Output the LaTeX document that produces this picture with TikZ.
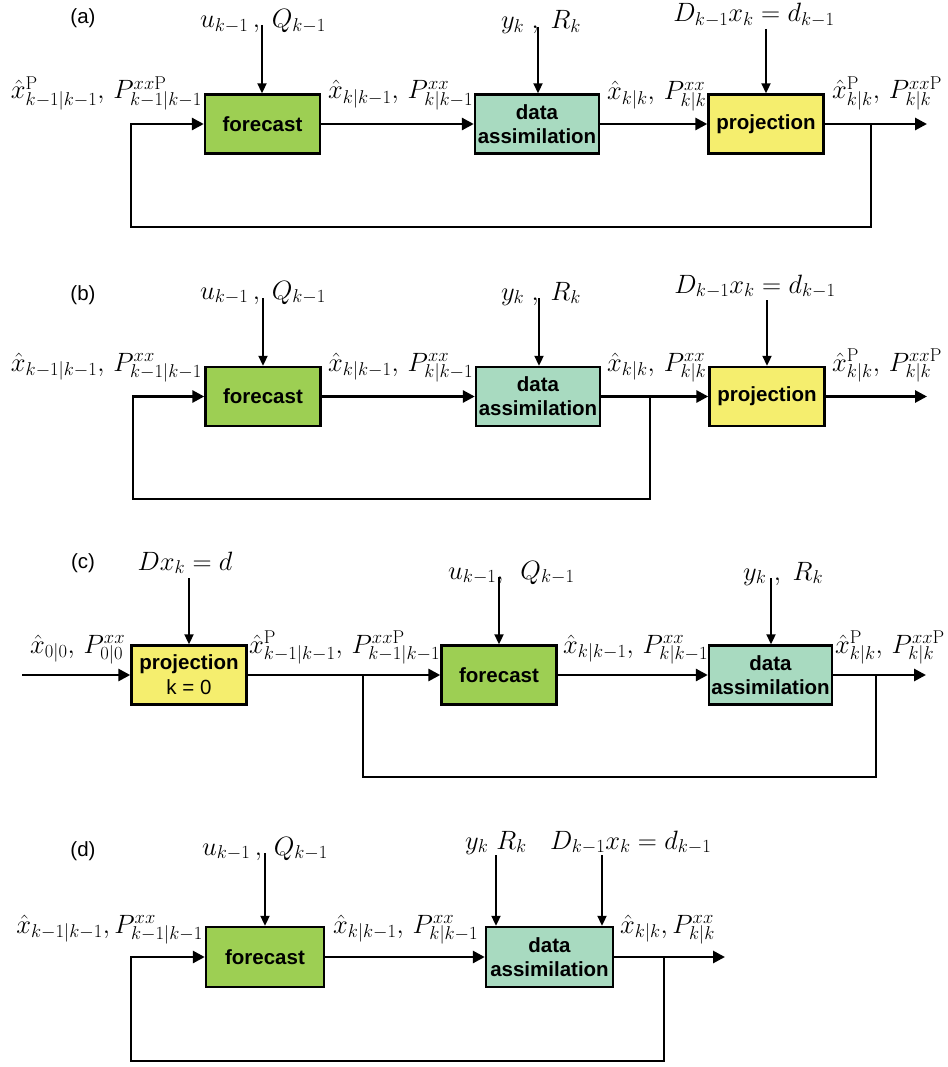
\RequirePackage{fix-cm}
\documentclass[tikz,border=0pt]{standalone}
\usepackage{fontspec}
\setsansfont{Liberation Sans}
\usetikzlibrary{arrows.meta}
\definecolor{fcgreen}{RGB}{157,207,83}
\definecolor{dateal}{RGB}{168,218,192}
\definecolor{pjyellow}{RGB}{245,238,110}
\tikzset{
  blk/.style={draw=black, line width=2.4pt, minimum height=59pt, inner sep=0pt,
    font=\sffamily\bfseries\fontsize{20.5}{24}\selectfont, align=center},
  fcbox/.style={blk, fill=fcgreen, minimum width=115pt},
  dabox/.style={blk, fill=dateal, minimum width=124pt},
  pjbox/.style={blk, fill=pjyellow, minimum width=115pt},
  conn/.style={line width=2.8pt, -{Triangle[length=12pt,width=12pt]}},
  feed/.style={line width=2.8pt},
  inarr/.style={line width=2pt, -{Triangle[length=10pt,width=9pt]}},
  lab/.style={font=\fontsize{26.5}{30}\selectfont, inner sep=0pt},
  ptag/.style={font=\sffamily\fontsize{20.5}{24}\selectfont, inner sep=0pt}
}
\begin{document}
\begin{tikzpicture}[x=1pt,y=-1pt]
\useasboundingbox (0,0) rectangle (947,1067);

% ---------------- (a) ----------------
\node[ptag] (a-tag) at (83,18) {(a)};
\node[fcbox] (a-fc) at (262.5,124) {forecast};
\node[dabox] (a-da) at (537,124) {data\\assimilation};
\node[pjbox] (a-pj) at (766,124) {projection};
\node[lab, anchor=base] (a-uq) at (263,28) {$u_{k-1}\,,\; Q_{k-1}$};
\node[lab, anchor=base] (a-yr) at (541,29) {$y_k\;,\; R_k$};
\node[lab, anchor=base] (a-dc) at (754,22) {$D_{k-1}x_k = d_{k-1}$};
\coordinate (a-u) at (262,25);
\coordinate (a-y) at (538,27);
\coordinate (a-d) at (766,29);
\draw[inarr] (a-u) -- (a-u |- a-fc.north);
\draw[inarr] (a-y) -- (a-y |- a-da.north);
\draw[inarr] (a-d) -- (a-d |- a-pj.north);
\node[lab, anchor=base east] (a-l0) at (202,99) {$\hat{x}^{\mathrm{P}}_{k-1|k-1},\, P^{xx\mathrm{P}}_{k-1|k-1}$};
\node[lab, anchor=base west] (a-l1) at (328,99) {$\hat{x}_{k|k-1},\, P^{xx}_{k|k-1}$};
\node[lab, anchor=base west] (a-l2) at (607,100) {$\hat{x}_{k|k},\, P^{xx}_{k|k}$};
\node[lab, anchor=base west] (a-l3) at (832,99) {$\hat{x}^{\mathrm{P}}_{k|k},\, P^{xx\mathrm{P}}_{k|k}$};
\coordinate (a-out) at (927,124);
\coordinate (a-j) at (871,124);
\coordinate (a-bl) at (131,227);
\draw[conn] (a-fc.east) -- (a-da.west);
\draw[conn] (a-da.east) -- (a-pj.west);
\draw[conn] (a-pj.east) -- (a-out);
\draw[conn] (a-j) |- (a-bl) |- (a-fc.west);

% ---------------- (b) ----------------
\node[ptag] (b-tag) at (83,295) {(b)};
\node[fcbox] (b-fc) at (263,396.5) {forecast};
\node[dabox] (b-da) at (538,396.5) {data\\assimilation};
\node[pjbox] (b-pj) at (767,396.5) {projection};
\node[lab, anchor=base] (b-uq) at (263,299) {$u_{k-1}\,,\; Q_{k-1}$};
\node[lab, anchor=base] (b-yr) at (541,300) {$y_k\;,\; R_k$};
\node[lab, anchor=base] (b-dc) at (755,293) {$D_{k-1}x_k = d_{k-1}$};
\coordinate (b-u) at (263,298);
\coordinate (b-y) at (539,298);
\coordinate (b-d) at (767,300);
\draw[inarr] (b-u) -- (b-u |- b-fc.north);
\draw[inarr] (b-y) -- (b-y |- b-da.north);
\draw[inarr] (b-d) -- (b-d |- b-pj.north);
\node[lab, anchor=base east] (b-l0) at (202,371) {$\hat{x}_{k-1|k-1},\, P^{xx}_{k-1|k-1}$};
\node[lab, anchor=base west] (b-l1) at (328,371) {$\hat{x}_{k|k-1},\, P^{xx}_{k|k-1}$};
\node[lab, anchor=base west] (b-l2) at (607,371) {$\hat{x}_{k|k},\, P^{xx}_{k|k}$};
\node[lab, anchor=base west] (b-l3) at (832,371) {$\hat{x}^{\mathrm{P}}_{k|k},\, P^{xx\mathrm{P}}_{k|k}$};
\coordinate (b-out) at (927,396.5);
\coordinate (b-j) at (650,396.5);
\coordinate (b-bl) at (133,499);
\draw[conn] (b-fc.east) -- (b-da.west);
\draw[conn] (b-da.east) -- (b-pj.west);
\draw[conn] (b-pj.east) -- (b-out);
\draw[conn] (b-j) |- (b-bl) |- (b-fc.west);

% ---------------- (c) ----------------
\node[ptag] (c-tag) at (83,563) {(c)};
\node[pjbox, font=\sffamily\fontsize{20.5}{25}\selectfont] (c-pj) at (189,675) {\textbf{projection}\\k = 0};
\node[fcbox] (c-fc) at (499,675) {forecast};
\node[dabox, minimum width=123pt] (c-da) at (770.5,675) {data\\assimilation};
\node[lab, anchor=base] (c-dc) at (185,570) {$Dx_k = d$};
\node[lab, anchor=base west] (c-uq) at (448,579) {$u_{k-1},\ \, Q_{k-1}$};
\node[lab, anchor=base west] (c-yr) at (743,580) {$y_k\;,\; R_k$};
\coordinate (c-d) at (189,578);
\coordinate (c-u) at (499,577);
\coordinate (c-y) at (771,578);
\draw[inarr] (c-d) -- (c-d |- c-pj.north);
\draw[inarr] (c-u) -- (c-u |- c-fc.north);
\draw[inarr] (c-y) -- (c-y |- c-da.north);
\node[lab, anchor=base west] (c-l0) at (30,653) {$\hat{x}_{0|0},\, P^{xx}_{0|0}$};
\node[lab, anchor=base west] (c-l1) at (249,653) {$\hat{x}^{\mathrm{P}}_{k-1|k-1},\, P^{xx\mathrm{P}}_{k-1|k-1}$};
\node[lab, anchor=base west] (c-l2) at (563,653) {$\hat{x}_{k|k-1},\, P^{xx}_{k|k-1}$};
\node[lab, anchor=base east] (c-l3) at (945,653) {$\hat{x}^{\mathrm{P}}_{k|k},\, P^{xx\mathrm{P}}_{k|k}$};
\coordinate (c-in) at (22,675);
\coordinate (c-out) at (926,675);
\coordinate (c-j) at (876,675);
\coordinate (c-j2) at (363,675);
\coordinate (c-br) at (876,777);
\draw[conn] (c-in) -- (c-pj.west);
\draw[conn] (c-pj.east) -- (c-fc.west);
\draw[conn] (c-fc.east) -- (c-da.west);
\draw[conn] (c-da.east) -- (c-out);
\draw[feed] (c-j) -- (c-br) -| (c-j2);

% ---------------- (d) ----------------
\node[ptag] (d-tag) at (83,851) {(d)};
\node[fcbox, minimum width=118pt, minimum height=60pt] (d-fc) at (265,957) {forecast};
\node[dabox, minimum width=127pt, minimum height=60pt] (d-da) at (549.5,957) {data\\assimilation};
\node[lab, anchor=base] (d-uq) at (265,855) {$u_{k-1}\,,\; Q_{k-1}$};
\node[lab, anchor=base west] (d-yr) at (465,849) {$y_k\ R_k$};
\node[lab, anchor=base west] (d-dc) at (550,849) {$D_{k-1}x_k = d_{k-1}$};
\coordinate (d-u) at (265,853);
\coordinate (d-y) at (496,855);
\coordinate (d-d) at (602,855);
\draw[inarr] (d-u) -- (d-u |- d-fc.north);
\draw[inarr] (d-y) -- (d-y |- d-da.north);
\draw[inarr] (d-d) -- (d-d |- d-da.north);
\node[lab, anchor=base east] (d-l0) at (203,933) {$\hat{x}_{k-1|k-1},P^{xx}_{k-1|k-1}$};
\node[lab, anchor=base west] (d-l1) at (333,933) {$\hat{x}_{k|k-1},\, P^{xx}_{k|k-1}$};
\node[lab, anchor=base west] (d-l2) at (620,933) {$\hat{x}_{k|k},P^{xx}_{k|k}$};
\coordinate (d-out) at (725,957);
\coordinate (d-j) at (664,957);
\coordinate (d-bl) at (131,1061);
\draw[conn] (d-fc.east) -- (d-da.west);
\draw[conn] (d-da.east) -- (d-out);
\draw[conn] (d-j) |- (d-bl) |- (d-fc.west);
\end{tikzpicture}
\end{document}
